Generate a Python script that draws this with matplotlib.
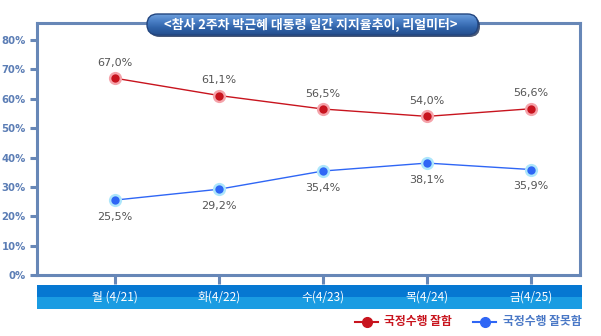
import matplotlib
matplotlib.use('Agg')
import numpy as np
from matplotlib import pyplot as plt
from matplotlib.patches import FancyBboxPatch
from matplotlib.lines import Line2D
from matplotlib.colors import LinearSegmentedColormap

plt.rcParams['font.family'] = ['Noto Sans CJK KR', 'DejaVu Sans']

days = ['월 (4/21)', '화(4/22)', '수(4/23)', '목(4/24)', '금(4/25)']
approve = [67.0, 61.1, 56.5, 54.0, 56.6]
disapprove = [25.5, 29.2, 35.4, 38.1, 35.9]
yticks = [0, 10, 20, 30, 40, 50, 60, 70, 80]

title = '<참사 2주차 박근혜 대통령 일간 지지율추이, 리얼미터>'
name_a = '국정수행 잘함'
name_d = '국정수행 잘못함'

W, H = 601, 336
frame = '#6787B7'
red, red_halo = '#C8141E', '#F5A3AA'
blue, blue_halo = '#2F66F5', '#ADE6FB'

fig = plt.figure(figsize=(W / 100, H / 100), dpi=100)

def px(x0, y0, x1, y1):
    return [x0 / W, 1 - y1 / H, (x1 - x0) / W, (y1 - y0) / H]

# main plot
ax = fig.add_axes(px(37, 23, 580, 275))
step = 104
ax.set_xlim((37 - 115) / step, (580 - 115) / step)
ax.set_ylim(0, (275 - 23) / 2.9375)
x = np.arange(len(days))

for s in ax.spines.values():
    s.set_color(frame)
    s.set_linewidth(2.2)

ax.plot(x, approve, color=red, lw=1, zorder=2)
ax.plot(x, approve, 'o', ms=9.5, color=red_halo, mec='none', zorder=3)
ax.plot(x, approve, 'o', ms=6, color=red, mec='none', zorder=4)
ax.plot(x, disapprove, color=blue, lw=1, zorder=2)
ax.plot(x, disapprove, 'o', ms=9.5, color=blue_halo, mec='none', zorder=3)
ax.plot(x, disapprove, 'o', ms=6, color=blue, mec='none', zorder=4)

for i, v in enumerate(approve):
    ax.annotate(f'{v:.1f}%'.replace('.', ','), (i, v), xytext=(0, 11),
                textcoords='offset points', ha='center', va='center',
                fontsize=8, color='#555555', family='DejaVu Sans')
for i, v in enumerate(disapprove):
    ax.annotate(f'{v:.1f}%'.replace('.', ','), (i, v), xytext=(0, -12),
                textcoords='offset points', ha='center', va='center',
                fontsize=8, color='#555555', family='DejaVu Sans')

ax.set_yticks(yticks)
ax.set_yticklabels([f'{t}%' for t in yticks], color='#5B7DB5',
                   fontsize=7.3, fontweight='bold', family='DejaVu Sans')
ax.set_xticks(x)
ax.set_xticklabels([])
ax.tick_params(axis='y', length=5, width=2.2, color=frame, pad=3)
ax.tick_params(axis='x', length=6.5, width=2.2, color=frame)

# category band
bx = fig.add_axes(px(37, 285, 582, 309))
bx.set_xlim((37 - 115) / step, (582 - 115) / step)
bx.set_ylim(0, 1)
bx.axis('off')
bx.axhspan(0.5, 1, color='#0678D2', lw=0)
bx.axhspan(0, 0.5, color='#1A9CE2', lw=0)
for i, d in enumerate(days):
    bx.text(i, 0.5, d, ha='center', va='center', color='white', fontsize=8.5)

# overlay: title pill and legend
ov = fig.add_axes([0, 0, 1, 1])
ov.set_xlim(0, W)
ov.set_ylim(H, 0)
ov.axis('off')
ov.add_patch(FancyBboxPatch((149, 16), 331, 21, boxstyle='round,pad=0,rounding_size=10.5',
                            fc='#1A2E55', ec='none', alpha=0.8, zorder=1))
pill = FancyBboxPatch((147, 14), 331, 21, boxstyle='round,pad=0,rounding_size=10.5',
                      fc='none', ec='#22457F', lw=1, zorder=3)
ov.add_patch(pill)
cmap = LinearSegmentedColormap.from_list('pill', ['#6FA0DC', '#4A7FC6', '#2F62A8', '#264F8E'])
grad = np.linspace(0, 1, 64).reshape(-1, 1)
im = ov.imshow(grad, cmap=cmap, extent=(147, 478, 35, 14), aspect='auto', zorder=2)
im.set_clip_path(pill)
ov.set_xlim(0, W)
ov.set_ylim(H, 0)
ov.text(311, 24.5, title, ha='center', va='center', color='white',
        fontsize=9.3, fontweight='bold', zorder=4)

ov.add_line(Line2D([355, 378], [322, 322], color=red, lw=1.5))
ov.plot([366.5], [322], 'o', ms=7, color=red)
ov.text(384, 322, name_a, ha='left', va='center', color=red,
        fontsize=8.5, fontweight='bold')
ov.add_line(Line2D([473, 496], [322, 322], color=blue, lw=1.5))
ov.plot([484.5], [322], 'o', ms=7, color=blue)
ov.text(503, 322, name_d, ha='left', va='center', color='#4A78C6',
        fontsize=8.5, fontweight='bold')

fig.savefig('out.png', dpi=100)
